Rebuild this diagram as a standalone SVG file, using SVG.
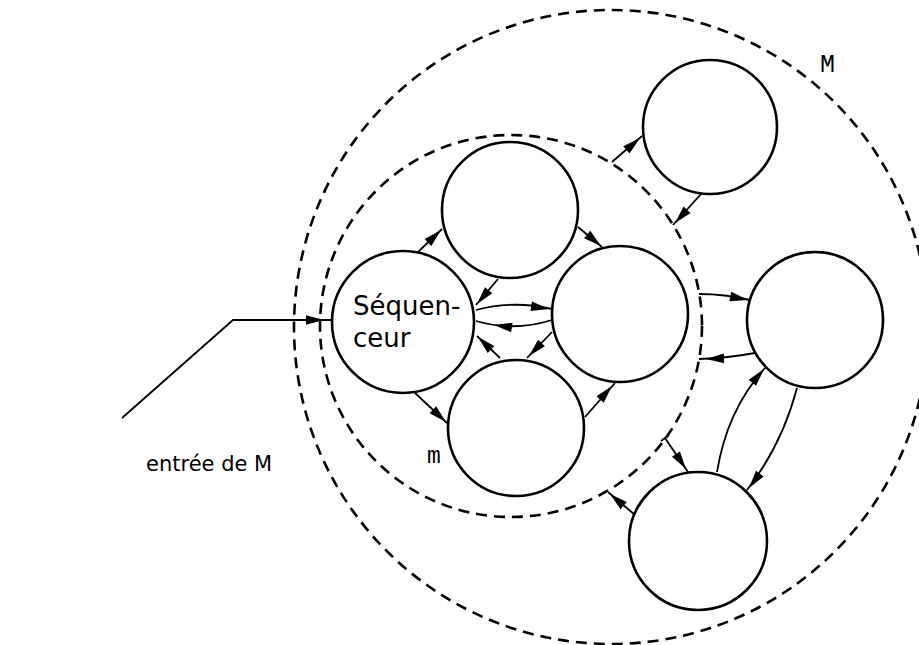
<svg xmlns="http://www.w3.org/2000/svg" xmlns:xlink="http://www.w3.org/1999/xlink" width="919" height="645" viewBox="0 0 919 645">
<style>
.bg{fill:#ffffff}
.node{fill:#ffffff;stroke:#000;stroke-width:2.6}
.dash{fill:none;stroke:#000;stroke-width:2.6;stroke-dasharray:11 7}
.conn{fill:none;stroke:#000;stroke-width:1.8}
.lbl{font-family:"DejaVu Sans","Liberation Sans",sans-serif;fill:#000}
.ser{font-family:"Liberation Mono","DejaVu Sans Mono",monospace;fill:#000}
</style>
<defs>
<path id="ah" d="M0,0 L-18,-4.8 L-18,4.8 Z" fill="#000"/>
</defs>
<rect class="bg" x="0" y="0" width="919" height="645"/>
<g id="boundary-M">
<circle class="dash" cx="611" cy="327" r="317"/>
<text class="ser" x="820" y="72" font-size="25">M</text>
</g>
<g id="boundary-m">
<circle class="dash" cx="511" cy="326" r="191"/>
<text class="ser" x="427" y="463" font-size="23">m</text>
</g>
<g id="node-sequenceur">
<circle class="node" cx="403" cy="322" r="71"/>
<text class="lbl" x="353" y="315" font-size="26">Séquen-</text>
<text class="lbl" x="353" y="347" font-size="26">ceur</text>
</g>
<g id="node-top"><circle class="node" cx="510" cy="210" r="68"/></g>
<g id="node-mid"><circle class="node" cx="620" cy="314" r="68"/></g>
<g id="node-bottom"><circle class="node" cx="516" cy="428" r="68"/></g>
<g id="node-topright"><circle class="node" cx="710" cy="127" r="67"/></g>
<g id="node-right"><circle class="node" cx="815" cy="320" r="68"/></g>
<g id="node-bottomright"><circle class="node" cx="698" cy="541" r="69"/></g>
<g id="label-entree">
<text class="lbl" x="146" y="471" font-size="21">entrée de M</text>
</g>
<g id="connectors">
<path class="conn" d="M122,418 L233,320 L331,320"/>
<use xlink:href="#ah" transform="translate(324,320)"/>
<path class="conn" d="M418,252 L442,229"/>
<use xlink:href="#ah" transform="translate(441,230) rotate(-43.8)"/>
<path class="conn" d="M498,279 L476,305"/>
<use xlink:href="#ah" transform="translate(477,304) rotate(130.2)"/>
<path class="conn" d="M578,227 L602,247"/>
<use xlink:href="#ah" transform="translate(601,246) rotate(39.8)"/>
<path class="conn" d="M476,310 Q513,300 552,309"/>
<use xlink:href="#ah" transform="translate(549,309) rotate(9)"/>
<path class="conn" d="M552,320 Q513,332 476,321"/>
<use xlink:href="#ah" transform="translate(494,325) rotate(188)"/>
<path class="conn" d="M552,332 L527,358"/>
<use xlink:href="#ah" transform="translate(529,356) rotate(133.9)"/>
<path class="conn" d="M500,358 L477,336"/>
<use xlink:href="#ah" transform="translate(478,337) rotate(223.7)"/>
<path class="conn" d="M415,393 L447,423"/>
<use xlink:href="#ah" transform="translate(446,422) rotate(43.2)"/>
<path class="conn" d="M585,417 L615,383"/>
<use xlink:href="#ah" transform="translate(612,386) rotate(-48.6)"/>
<path class="conn" d="M612,162 L642,136"/>
<use xlink:href="#ah" transform="translate(640,138) rotate(-40.9)"/>
<path class="conn" d="M702,193 L673,225"/>
<use xlink:href="#ah" transform="translate(675,223) rotate(132.2)"/>
<path class="conn" d="M699,294 Q725,294 750,300"/>
<use xlink:href="#ah" transform="translate(748,300) rotate(11)"/>
<path class="conn" d="M755,353 Q728,358 699,359"/>
<use xlink:href="#ah" transform="translate(706,359) rotate(178)"/>
<path class="conn" d="M717,472 Q727,410 765,368"/>
<use xlink:href="#ah" transform="translate(764,369) rotate(-50)"/>
<path class="conn" d="M797,388 Q782,445 747,490"/>
<use xlink:href="#ah" transform="translate(749,488) rotate(127)"/>
<path class="conn" d="M665,438 L688,472 M661,441 L669,435"/>
<use xlink:href="#ah" transform="translate(686,469) rotate(55.9)"/>
<path class="conn" d="M635,515 L608,492"/>
<use xlink:href="#ah" transform="translate(610,494) rotate(220.4)"/>
</g>
</svg>
